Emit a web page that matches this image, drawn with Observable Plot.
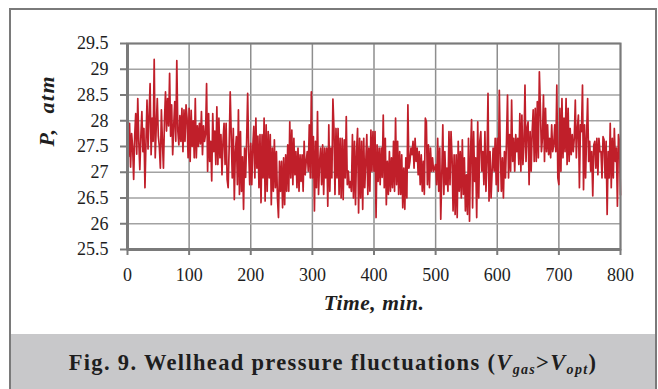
<!DOCTYPE html>
<html>
<head>
<meta charset="utf-8">
<script src="https://cdn.jsdelivr.net/npm/d3@7"></script>
<script src="https://cdn.jsdelivr.net/npm/@observablehq/plot@0.6"></script>
<style>
  html, body { margin: 0; padding: 0; background: #fff; overflow: hidden; }
  #box { position: absolute; left: 9px; top: 8px; width: 644px; border: 2px solid #7a7a7a; border-bottom: none; background: #fff; }
  #chart svg { display: block; }
  #caption { background: #c8c8ca; height: 60px; box-sizing: border-box; padding-top: 17px; text-align: center;
    font-family: "Palatino Linotype", Palatino, "Book Antiqua", "Liberation Serif", serif; font-weight: bold; font-size: 22.5px; line-height: 24px; color: #1e1e1e; white-space: nowrap; }
  #caption sub { font-size: 14px; vertical-align: -4px; line-height: 0; }
</style>
</head>
<body>
<div id="box">
  <div id="chart"></div>
  <div id="caption"><span id="captxt">Fig. 9. Wellhead pressure fluctuations (<i>V</i><sub><i>gas</i></sub>&gt;<i>V</i><sub><i>opt</i></sub>)</span></div>
</div>
<script>
// Axis ticks
const xTicks = [0, 100, 200, 300, 400, 500, 600, 700, 800];
const yTicks = [25.5, 26, 26.5, 27, 27.5, 28, 28.5, 29, 29.5];
const xLabel = "Time, min.";
const yLabel = "P,  atm";

// Wellhead pressure P (atm), per 100-minute block
const p000 = [28.2,27.3,27.95,27.1,27.75,27.5,26.86,27.7,28.14,27.35,28.43,27.6,27.05,27.7,28.18,27.4,27.85,26.7,27.6,28.4,27.45,28.1,28.72,27.34,28.05,27.6,29.19,27.28,27.9,28.43,27.7,27.5,27.08,28.21,27.6,27.08,28.0,28.56,27.8,28.43,27.9,28.92,27.7,28.31,27.34,27.9,28.37,27.6,29.17,27.8,27.53,28.1,27.6,28.24,27.4,28.21,27.6,28.31,28.05,27.28];
const p100 = [28.24,27.21,28.2,27.5,28.0,27.28,28.43,27.28,27.9,27.5,27.95,27.55,28.18,27.34,27.9,27.6,27.75,28.72,27.02,28.14,27.21,27.6,26.83,28.14,27.4,27.8,27.15,28.27,27.15,28.05,27.28,27.73,26.95,27.6,27.95,27.15,27.95,26.86,26.7,27.5,28.56,27.73,26.89,27.85,26.47,27.4,27.69,26.76,28.21,26.57,27.79,26.63,27.3,26.28,27.47,26.9,27.6,28.53,27.4,26.76];
const p200 = [27.56,26.76,27.5,27.89,26.89,28.05,27.08,27.7,26.7,27.73,26.41,27.73,26.89,28.05,26.44,27.92,26.63,27.79,26.89,27.73,26.37,27.47,26.63,27.63,26.7,27.4,26.5,26.12,27.21,26.63,27.21,26.31,27.28,26.37,27.34,26.63,27.53,26.63,27.98,26.89,27.82,26.76,27.66,26.95,27.4,26.7,27.47,26.63,27.34,26.82,27.34,26.63,27.6,26.95,27.21,27.4,27.02,27.92,26.89,28.56];
const p300 = [26.89,27.69,26.25,27.6,26.7,28.18,26.57,27.2,27.47,26.76,27.53,26.57,27.47,26.89,27.47,26.34,27.92,26.63,27.47,26.89,28.42,27.85,26.57,27.85,26.89,27.85,26.57,27.66,26.5,27.66,26.47,27.63,26.89,28.08,26.76,27.02,26.7,26.82,26.63,27.73,26.5,27.6,26.37,27.4,27.85,26.21,27.66,26.5,27.6,26.28,27.66,26.7,27.2,27.73,26.57,27.47,26.63,27.82,27.02,27.79];
const p400 = [27.02,27.79,26.12,27.53,26.82,27.47,26.76,27.47,26.9,28.11,26.7,27.66,26.37,27.21,26.57,27.4,26.63,27.28,26.7,27.6,26.63,28.05,26.76,27.6,26.57,27.4,26.57,27.34,26.31,27.08,26.28,27.28,26.5,28.31,27.08,27.21,27.47,27.34,27.6,27.08,27.66,27.21,27.47,26.95,27.4,26.76,27.34,26.63,27.21,26.57,28.05,27.98,26.76,27.53,26.7,27.47,27.02,27.28,27.02,27.08];
const p500 = [27.15,26.76,27.66,26.63,27.47,26.09,26.95,27.92,26.57,27.4,26.76,27.08,26.63,27.79,26.76,27.79,27.28,26.25,27.34,26.18,27.34,26.12,27.6,26.63,27.4,26.5,27.63,26.57,27.28,26.25,26.95,26.18,27.66,26.05,27.4,28.02,26.31,27.79,26.82,27.28,26.12,27.98,26.5,27.6,27.79,27.02,27.4,26.76,27.79,26.63,27.21,28.53,26.44,27.4,26.5,27.02,27.47,27.02,27.66,26.76];
const p600 = [27.66,26.63,28.59,27.4,26.63,27.28,26.5,27.4,26.89,27.6,28.5,26.89,27.73,27.02,28.4,27.21,27.66,27.02,27.73,27.4,27.66,27.15,28.14,27.02,28.11,27.15,27.53,28.69,27.21,27.85,27.98,26.76,27.79,27.02,27.79,28.21,27.21,28.24,27.21,28.37,27.28,28.95,28.24,27.4,27.66,28.5,27.21,28.24,27.4,27.92,27.34,27.66,27.28,27.92,27.4,27.53,27.92,27.4,28.69,26.89];
const p700 = [26.76,28.24,27.02,28.43,27.28,28.05,27.4,28.43,27.15,28.24,27.21,27.85,27.34,27.73,27.4,27.66,28.4,27.28,27.85,28.11,26.7,27.92,27.79,28.69,26.66,27.92,26.89,27.73,28.43,27.21,27.6,27.02,27.4,26.54,27.53,27.6,27.08,27.66,26.95,27.66,27.4,27.4,26.89,27.69,27.63,26.89,27.6,26.18,27.4,26.89,27.95,26.7,27.66,26.89,27.85,27.21,27.47,26.34,27.73,27.6,26.56];

const pressure = [].concat(p000, p100, p200, p300, p400, p500, p600, p700);
const tStart = 0, tEnd = 800; // minutes, evenly sampled
const data = pressure.map((p, i) => ({t: tStart + i * (tEnd - tStart) / (pressure.length - 1), p}));

const FONT = '"Palatino Linotype", Palatino, "Book Antiqua", "Liberation Serif", serif';
const GRID = "#8e8e8e", AXIS = "#7a7a7a", TEXT = "#1e1e1e";

const chart = Plot.plot({
  width: 644, height: 324,
  marginLeft: 116, marginRight: 35, marginTop: 33, marginBottom: 85,
  style: {fontFamily: FONT, fontSize: "18px", color: TEXT, background: "#fff", overflow: "visible"},
  x: {domain: [0, 800], label: null},
  y: {domain: [25.5, 29.5], label: null},
  marks: [
    Plot.gridX(xTicks, {stroke: GRID, strokeOpacity: 1, strokeWidth: 1.5}),
    Plot.gridY(yTicks, {stroke: "#a2a2a2", strokeOpacity: 1, strokeWidth: 1.5}),
    Plot.lineY(data, {x: "t", y: "p", stroke: "#c01f2a", strokeWidth: 1.7}),
    Plot.frame({stroke: AXIS, strokeWidth: 2}),
    Plot.ruleX([0], {stroke: AXIS, strokeWidth: 3}),
    Plot.ruleY([25.5], {stroke: AXIS, strokeWidth: 3}),
    Plot.axisX(xTicks, {tickSize: 6, tickPadding: 13, stroke: AXIS, strokeWidth: 2, fill: TEXT, label: null}),
    Plot.axisY(yTicks, {tickSize: 7, tickPadding: 12, stroke: AXIS, strokeWidth: 2, fill: TEXT, label: null, tickFormat: d => String(d)}),
    Plot.text([xLabel], {frameAnchor: "bottom", dy: 60, text: d => d, fontSize: 21.5, fontWeight: "bold", fontStyle: "italic", fill: TEXT}),
    Plot.text([yLabel], {frameAnchor: "left", dx: -81, rotate: -90, text: d => d, fontSize: 22, fontWeight: "bold", fontStyle: "italic", fill: TEXT})
  ]
});
document.getElementById("chart").appendChild(chart);

// adjust label spacing to match reference widths (Palatino substitute)
function fitSvgText(str, target) {
  for (const t of chart.querySelectorAll("text")) {
    if (t.textContent === str) {
      const w = t.getComputedTextLength();
      const ls = (target - w) / Math.max(1, str.length - 1);
      t.style.letterSpacing = ls.toFixed(2) + "px";
    }
  }
}
fitSvgText(xLabel, 100);
fitSvgText(yLabel, 70);
const cap = document.getElementById("captxt");
const cw = cap.getBoundingClientRect().width;
cap.style.letterSpacing = ((526 - cw) / 48).toFixed(2) + "px";
</script>
</body>
</html>
